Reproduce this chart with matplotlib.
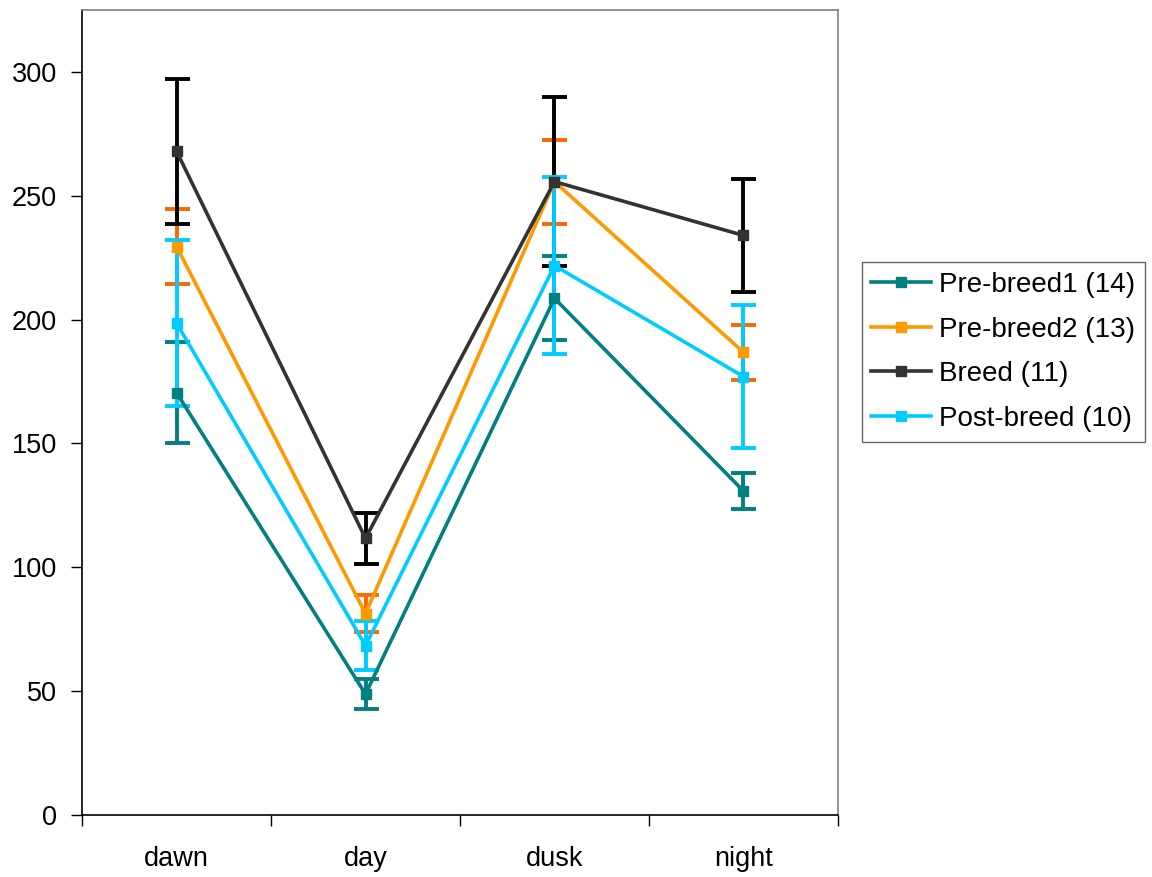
import matplotlib.pyplot as plt
import numpy as np

plt.rcParams['font.family'] = ['Liberation Sans', 'DejaVu Sans']

periods = ['dawn', 'day', 'dusk', 'night']

# mean values and error (+/-) per period
pre1 = [170.5, 48.8, 208.6, 130.8]
pre1_err = [20.5, 6.1, 17.0, 7.1]
pre2 = [229.5, 81.3, 255.7, 186.8]
pre2_err = [15.0, 7.6, 17.0, 11.0]
breed = [268.0, 111.7, 255.7, 234.0]
breed_err = [29.2, 10.3, 34.0, 22.7]
post = [198.6, 68.4, 221.8, 177.0]
post_err = [33.5, 9.8, 35.8, 28.7]

labels = ['Pre-breed1 (14)', 'Pre-breed2 (13)', 'Breed (11)', 'Post-breed (10)']
line_colors = ['#008080', '#FF9900', '#333333', '#00CCFF']
bar_colors = ['#008080', '#FF6600', '#000000', '#00CCFF']

fig = plt.figure(figsize=(11.52, 8.77), dpi=100)
ax = fig.add_axes([0.0712, 0.0707, 0.6562, 0.9179])

x = np.arange(len(periods))
series = [(pre1, pre1_err), (pre2, pre2_err), (breed, breed_err), (post, post_err)]

for i, ((vals, err), lab) in enumerate(zip(series, labels)):
    ax.errorbar(x, vals, yerr=err, fmt='none', ecolor=bar_colors[i],
                elinewidth=2.8, capsize=9, capthick=2.8, zorder=2 + i * 0.1)
for i, ((vals, err), lab) in enumerate(zip(series, labels)):
    ax.plot(x, vals, color=line_colors[i], lw=2.6, marker='s', ms=6.5,
            label=lab, zorder=4 + i * 0.1)

ax.set_xlim(-0.5, 3.5)
ax.set_ylim(0, 325)
ax.set_yticks(np.arange(0, 301, 50))
ax.set_xticks(np.arange(-0.5, 3.6, 1))
ax.set_xticklabels([])
ax.set_xticks(x, minor=True)
ax.set_xticklabels(periods, minor=True)
ax.tick_params(axis='x', which='major', length=8, width=1, direction='out')
ax.tick_params(axis='x', which='minor', length=0, pad=22, labelsize=19.5)
ax.tick_params(axis='y', length=8, width=1, direction='out', pad=10, labelsize=19.5)

for side in ['top', 'right']:
    ax.spines[side].set_color('#808080')
    ax.spines[side].set_linewidth(1.2)
for side in ['left', 'bottom']:
    ax.spines[side].set_color('#000000')
    ax.spines[side].set_linewidth(1.2)

fig.legend(loc='upper left', bbox_to_anchor=(0.748, 0.701),
           bbox_transform=fig.transFigure, fontsize=20, frameon=True,
           fancybox=False, edgecolor='#404040', handlelength=2.15,
           handletextpad=0.3, labelspacing=0.67, borderaxespad=0,
           borderpad=0.35)

fig.savefig('out.png', dpi=100)
